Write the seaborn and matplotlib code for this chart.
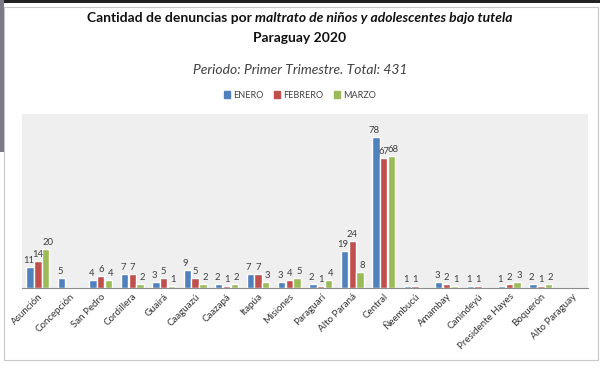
import pandas as pd
import numpy as np
import matplotlib.pyplot as plt
import seaborn as sns
from matplotlib.patches import Rectangle

# datos de denuncias por departamento, primer trimestre 2020
departamentos = ['Asunción', 'Concepción', 'San Pedro', 'Cordillera', 'Guairá', 'Caaguazú',
                 'Caazapá', 'Itapúa', 'Misiones', 'Paraguarí', 'Alto Paraná', 'Central',
                 'Ñeembucú', 'Amambay', 'Canindeyú', 'Presidente Hayes', 'Boquerón', 'Alto Paraguay']
enero = [11, 5, 4, 7, 3, 9, 2, 7, 3, 2, 19, 78, 1, 3, 1, 1, 2, 0]
febrero = [14, 0, 6, 7, 5, 5, 1, 7, 4, 1, 24, 67, 1, 2, 1, 2, 1, 0]
marzo = [20, 0, 4, 2, 1, 2, 2, 3, 5, 4, 8, 68, 0, 1, 0, 3, 2, 0]
meses = ['ENERO', 'FEBRERO', 'MARZO']
colores = ['#4F81BD', '#C0504D', '#9BBB59']

data = pd.DataFrame({'Departamento': departamentos, 'ENERO': enero,
                     'FEBRERO': febrero, 'MARZO': marzo})
data = data.melt(id_vars='Departamento', var_name='Mes', value_name='Denuncias')

sns.set_style('white')
plt.rcParams['font.family'] = ['Lato', 'DejaVu Sans']

fig = plt.figure(figsize=(6, 3.7), dpi=100)
ax = fig.add_axes([0.037, 0.222, 0.943, 0.47])
ax.set_facecolor('#efefef')

sns.barplot(data=data, x='Departamento', y='Denuncias', hue='Mes', hue_order=meses,
            palette=colores, saturation=1, width=0.74, gap=0.05, ax=ax, legend=False)

# etiquetas de valores, un poco separadas para que no se pisen
desplaz = [-1.2, 0, 1.5]
for cont, dx in zip(ax.containers, desplaz):
    vals = cont.datavalues
    anns = ax.bar_label(cont, labels=[str(int(v)) if v > 0 else '' for v in vals],
                        padding=1.5, fontsize=6.8, color='#404040')
    for a in anns:
        a.xyann = (dx, 1.5)

ax.set_ylim(0, 90)
ax.set_xlim(-0.5, len(departamentos) - 0.5)
ax.set_yticks([])
ax.set_xlabel('')
ax.set_ylabel('')
for s in ['top', 'right', 'left']:
    ax.spines[s].set_visible(False)
ax.spines['bottom'].set_color('#8c8c8c')
ax.spines['bottom'].set_linewidth(0.8)
ax.tick_params(axis='x', length=0, pad=3)
plt.setp(ax.get_xticklabels(), rotation=45, ha='right', rotation_mode='anchor',
         fontsize=7, color='#333333')

# marco de la captura
fig.add_artist(Rectangle((0.006, 0.027), 0.99, 0.955, transform=fig.transFigure,
                         fill=False, edgecolor='#c8c8c8', linewidth=0.8))
fig.add_artist(Rectangle((0, 0.993), 1, 0.007, transform=fig.transFigure,
                         color='#222222', linewidth=0))
fig.add_artist(Rectangle((0, 0.59), 0.006, 0.41, transform=fig.transFigure,
                         color='#7a7a86', linewidth=0))

# titulo con partes en negrita y cursiva
partes = [('Cantidad de denuncias por ', 'normal'),
          ('maltrato de niños y adolescentes bajo tutela', 'italic')]
fig.canvas.draw()
r = fig.canvas.get_renderer()
textos = []
for txt, estilo in partes:
    t = fig.text(0, 1 - 18 / 370, txt, fontsize=10, fontweight='bold', style=estilo,
                 va='center', ha='left', color='#111111')
    textos.append(t)
anchos = [t.get_window_extent(r).width for t in textos]
x0 = (600 - sum(anchos)) / 2
for t, w in zip(textos, anchos):
    t.set_x(x0 / 600)
    x0 += w
fig.text(0.5, 1 - 38 / 370, 'Paraguay 2020', fontsize=10, fontweight='bold',
         ha='center', va='center', color='#111111')
fig.text(0.5, 1 - 70 / 370, 'Periodo: Primer Trimestre. Total: 431', fontsize=10,
         style='italic', ha='center', va='center', color='#404040')

handles = [Rectangle((0, 0), 1, 1, color=c) for c in colores]
fig.legend(handles, meses, loc='center', bbox_to_anchor=(0.5, 1 - 95 / 370), ncol=3,
           frameon=False, fontsize=6.5, handlelength=0.7, handleheight=0.7,
           handletextpad=0.3, columnspacing=1.2, labelcolor='#404040')

fig.savefig('out.png', dpi=100)
